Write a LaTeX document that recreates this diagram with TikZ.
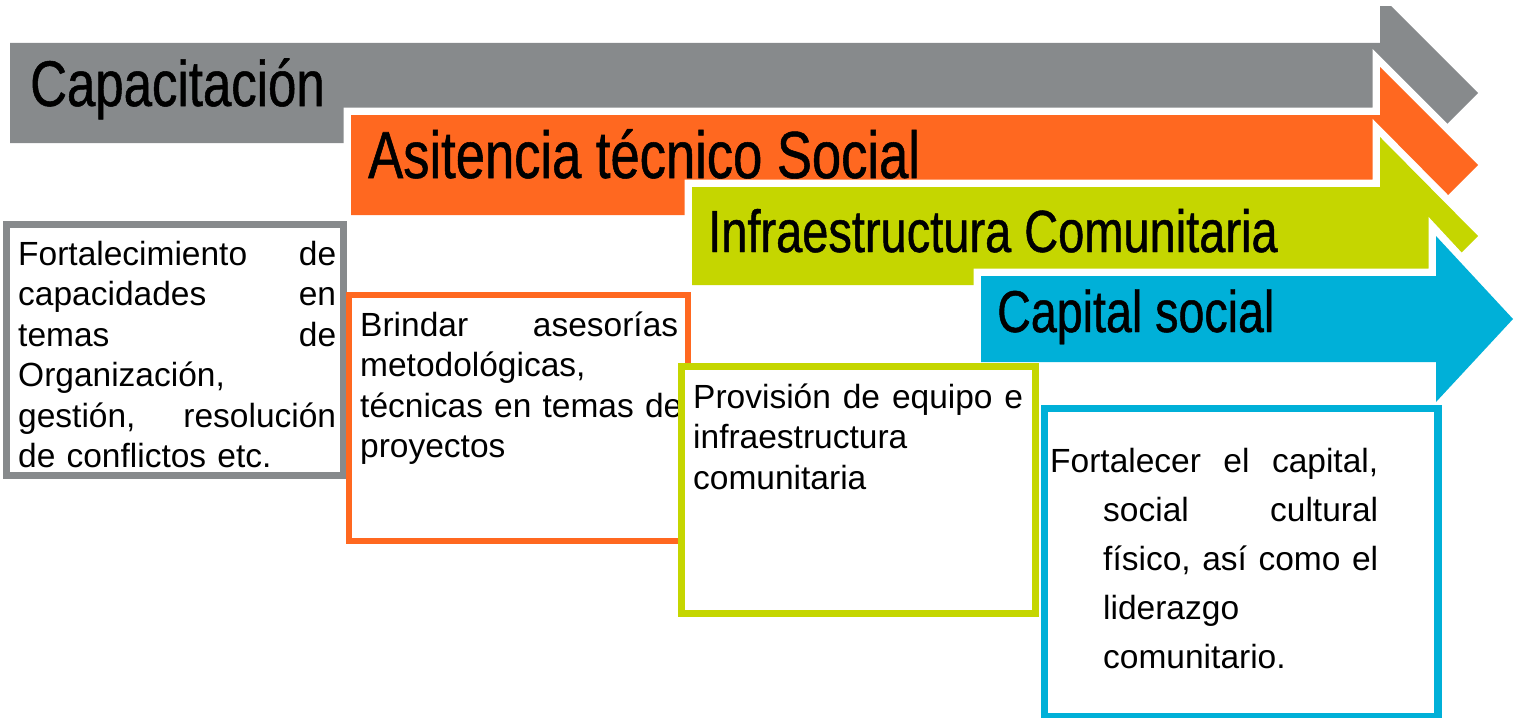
\documentclass[tikz,border=0pt]{standalone}
\usepackage{fontspec}
\setmainfont{Liberation Sans}
\newfontfamily\titlefont[FakeStretch=0.79,FakeBold=0.8]{Liberation Sans}
\definecolor{cgray}{RGB}{135,138,140}
\definecolor{corange}{RGB}{255,104,32}
\definecolor{cgreen}{RGB}{197,214,0}
\definecolor{cblue}{RGB}{0,176,216}
\tikzset{
  whiteedge/.style={draw=white, line width=15pt, line join=miter, miter limit=10},
  boxframe/.style={fill=white, line width=7pt, line join=miter},
  bodytext/.style={anchor=base west, inner sep=0pt, align=left, font=\fontsize{33.5}{40.5}\selectfont},
  titletext/.style={anchor=base west, inner sep=0pt, text=black}
}
\begin{document}
\begin{tikzpicture}[x=1pt,y=-1pt]
\useasboundingbox (0,0) rectangle (1522,717);
\clip (0,0) rectangle (1522,717);
% gray arrow
\begin{scope}
\clip (0,7) rectangle (1522,717);
\fill[cgray] (10,43) -- (1380,43) -- (1380,-5) -- (1478,93) -- (1380,191) -- (1380,143) -- (10,143) -- cycle;
\end{scope}
% orange arrow
\path[whiteedge] (351,115) -- (1380,115) -- (1380,67) -- (1478,165) -- (1380,263) -- (1380,215) -- (351,215) -- cycle;
\fill[corange] (351,115) -- (1380,115) -- (1380,67) -- (1478,165) -- (1380,263) -- (1380,215) -- (351,215) -- cycle;
% green arrow
\path[whiteedge] (692,187) -- (1380,187) -- (1380,137) -- (1478,236) -- (1380,335) -- (1380,285) -- (692,285) -- cycle;
\fill[cgreen] (692,187) -- (1380,187) -- (1380,137) -- (1478,236) -- (1380,335) -- (1380,285) -- (692,285) -- cycle;
% blue arrow
\path[whiteedge] (981,276) -- (1436,276) -- (1436,236) -- (1513,319) -- (1436,402) -- (1436,362) -- (981,362) -- cycle;
\fill[cblue] (981,276) -- (1436,276) -- (1436,236) -- (1513,319) -- (1436,402) -- (1436,362) -- (981,362) -- cycle;
% titles
\node[titletext, font=\titlefont\fontsize{64.5}{64}\selectfont] (t1) at (30,106) {Capacitación};
\node[titletext, font=\titlefont\fontsize{66.5}{66}\selectfont] (t2) at (368,178) {Asitencia técnico Social};
\node[titletext, font=\titlefont\fontsize{59.5}{60}\selectfont] (t3) at (708,252) {Infraestructura Comunitaria};
\node[titletext, font=\titlefont\fontsize{59}{59}\selectfont] (t4) at (997,332) {Capital social};
% boxes
\draw[boxframe, draw=cgray] (6.5,224.5) rectangle (343.5,475.5);
\node[bodytext, text width=318pt] (b1) at (18,265) {Fortalecimiento\hfill de\\capacidades\hfill en\\temas\hfill de\\Organización,\\gestión,\hfill resolución\\de conflictos etc.};
\draw[boxframe, draw=corange, line width=6pt] (348.5,295) rectangle (688,540.5);
\node[bodytext, text width=318pt] (b2) at (360,336) {Brindar\hfill asesorías\\metodológicas,\\\mbox{técnicas en temas de}\\proyectos};
\draw[boxframe, draw=cgreen] (681.5,366.5) rectangle (1035,613.5);
\node[bodytext, text width=330pt] (b3) at (693,408) {Provisión\hfill de\hfill equipo\hfill e\\infraestructura\\comunitaria};
\draw[boxframe, draw=cblue, line width=7.5pt] (1044.5,408.5) rectangle (1438,716.5);
\node[bodytext, text width=328pt, font=\fontsize{33.5}{49}\selectfont] (b4) at (1050,472) {Fortalecer\hfill el\hfill capital,\\\hspace*{53pt}social\hfill cultural\\\hspace*{53pt}físico,\hfill así\hfill como\hfill el\\\hspace*{53pt}liderazgo\\\hspace*{53pt}comunitario.};
\end{tikzpicture}
\end{document}
